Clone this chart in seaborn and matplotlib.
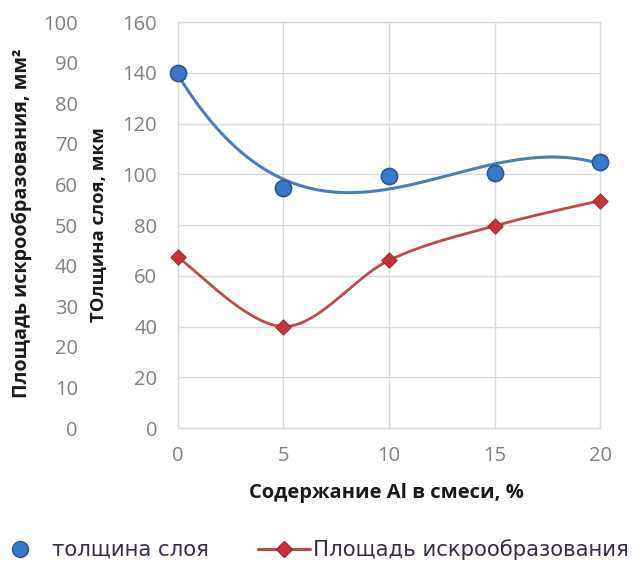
import numpy as np
import pandas as pd
import matplotlib
matplotlib.use("Agg")
import matplotlib.pyplot as plt
from matplotlib import font_manager
from matplotlib.lines import Line2D
import seaborn as sns

# --- data -------------------------------------------------------------
al_content = [0, 5, 10, 15, 20]                     # Al в смеси, %
layer_thickness = [140, 94.5, 99.5, 100.5, 105]     # толщина слоя, мкм
spark_area = [42, 25, 41.3, 49.8, 56]               # площадь искрообразования, мм²

x_ticks = [0, 5, 10, 15, 20]
thickness_ticks = [0, 20, 40, 60, 80, 100, 120, 140, 160]
area_ticks = [0, 10, 20, 30, 40, 50, 60, 70, 80, 90, 100]

x_label = "Содержание Al в смеси, %"
thickness_label = "ТОлщина слоя, мкм"
area_label = "Площадь искрообразования, мм²"
legend_thickness = "толщина слоя"
legend_area = "Площадь искрообразования"

# --- style ------------------------------------------------------------
BLUE = "#4a7ebb"
BLUE_FACE = "#3a78c9"
BLUE_EDGE = "#24569a"
RED = "#be4b48"
RED_FACE = "#c9303a"
GRID = "#d9d9d9"
TICK = "#808080"


def pick_font(*names):
    available = {f.name for f in font_manager.fontManager.ttflist}
    for n in names:
        if n in available:
            return n
    return "DejaVu Sans"


tick_font = pick_font("Liberation Sans Narrow", "Open Sans", "Liberation Sans")
label_font = pick_font("Open Sans", "Liberation Sans")

sns.set_theme(style="whitegrid", rc={"grid.color": GRID, "axes.edgecolor": GRID})
plt.rcParams["font.family"] = ["DejaVu Sans"]


def smooth_curve(xs, ys, n=40):
    """Bezier smoothing through the points (Catmull-Rom style control points)."""
    p = np.column_stack([xs, ys]).astype(float)
    ext = np.vstack([p[0], p, p[-1]])
    t = np.linspace(0, 1, n)[:, None]
    parts = []
    for i in range(len(p) - 1):
        p0, p1, p2, p3 = ext[i], ext[i + 1], ext[i + 2], ext[i + 3]
        c1 = p1 + (p2 - p0) / 6
        c2 = p2 - (p3 - p1) / 6
        seg = ((1 - t) ** 3) * p1 + 3 * ((1 - t) ** 2) * t * c1 \
            + 3 * (1 - t) * t ** 2 * c2 + t ** 3 * p2
        parts.append(seg if i == 0 else seg[1:])
    return np.vstack(parts)


df = pd.DataFrame({"al": al_content, "thickness": layer_thickness, "area": spark_area})

fig = plt.figure(figsize=(6.35, 5.69), dpi=100)
ax = fig.add_axes([0.2803, 0.2478, 0.6646, 0.7135])
ax2 = ax.twinx()

# thickness: cubic trend line with markers
sns.regplot(data=df, x="al", y="thickness", order=3, ci=None, scatter=False,
            truncate=True, ax=ax, line_kws=dict(color=BLUE, lw=2.2, zorder=3))
sns.scatterplot(data=df, x="al", y="thickness", ax=ax, s=135, color=BLUE_FACE,
                edgecolor=BLUE_EDGE, linewidth=1.2, zorder=4, clip_on=False)

# spark area: smoothed line with diamond markers on the second scale
curve = smooth_curve(df["al"], df["area"])
ax2.plot(curve[:, 0], curve[:, 1], color=RED, lw=2.0, zorder=3)
sns.scatterplot(data=df, x="al", y="area", ax=ax2, marker="D", s=60,
                color=RED_FACE, edgecolor="#9e2a2e", linewidth=0.8, zorder=4,
                clip_on=False)

# --- axes -------------------------------------------------------------
ax.set_xlim(0, 20)
ax.set_ylim(0, 160)
ax2.set_ylim(0, 100)
ax.set_xticks(x_ticks)
ax.set_yticks(thickness_ticks)
ax2.set_yticks(area_ticks)
ax2.grid(False)
ax.grid(True, color=GRID, lw=1.0)
for s in ax.spines.values():
    s.set_color(GRID)
    s.set_linewidth(1.0)
for s in ax2.spines.values():
    s.set_visible(False)

ax.tick_params(axis="both", length=0, colors=TICK, labelsize=14.5)
ax.tick_params(axis="y", pad=15)
ax.tick_params(axis="x", pad=13)
for lab in ax.get_xticklabels() + ax.get_yticklabels():
    lab.set_fontfamily(tick_font)

ax2.yaxis.set_ticks_position("left")
ax2.yaxis.set_label_position("left")
ax2.spines["left"].set_position(("outward", 57))
ax2.tick_params(axis="y", length=0, colors=TICK, labelsize=14.5, pad=15)
for lab in ax2.get_yticklabels():
    lab.set_fontfamily(tick_font)

ax.set_xlabel(x_label, fontsize=14.5, fontweight="bold", family=label_font, color="#1a1a1a")
ax.set_ylabel(thickness_label, fontsize=13.3, fontweight="bold", family=label_font, color="#1a1a1a")
ax2.set_ylabel(area_label, fontsize=14.2, fontweight="bold", family=label_font, color="#1a1a1a")
ax.xaxis.set_label_coords(0.495, -0.135)
ax.yaxis.set_label_coords(-0.166, 0.5)
ax2.yaxis.set_label_coords(-0.346, 0.505)

# --- legend -----------------------------------------------------------
blue_handle = Line2D([], [], ls="none", marker="o", markersize=11.5,
                     markerfacecolor=BLUE_FACE, markeredgecolor=BLUE_EDGE)
red_handle = Line2D([], [], color=RED, lw=2.2, marker="D", markersize=8,
                    markerfacecolor=RED_FACE, markeredgecolor="#9e2a2e")
leg_kw = dict(frameon=False, loc="center left", borderpad=0, borderaxespad=0,
              prop={"family": "DejaVu Sans", "size": 15.3}, labelcolor="#3b2b4a")
fig.legend([blue_handle], [legend_thickness], bbox_to_anchor=(0.0148, 0.0334),
           handlelength=1.0, handletextpad=1.0, **leg_kw)
fig.legend([red_handle], [legend_area], bbox_to_anchor=(0.4063, 0.0334),
           handlelength=2.45, handletextpad=0.14, **leg_kw)

fig.savefig("out.png", dpi=100, facecolor="white")
